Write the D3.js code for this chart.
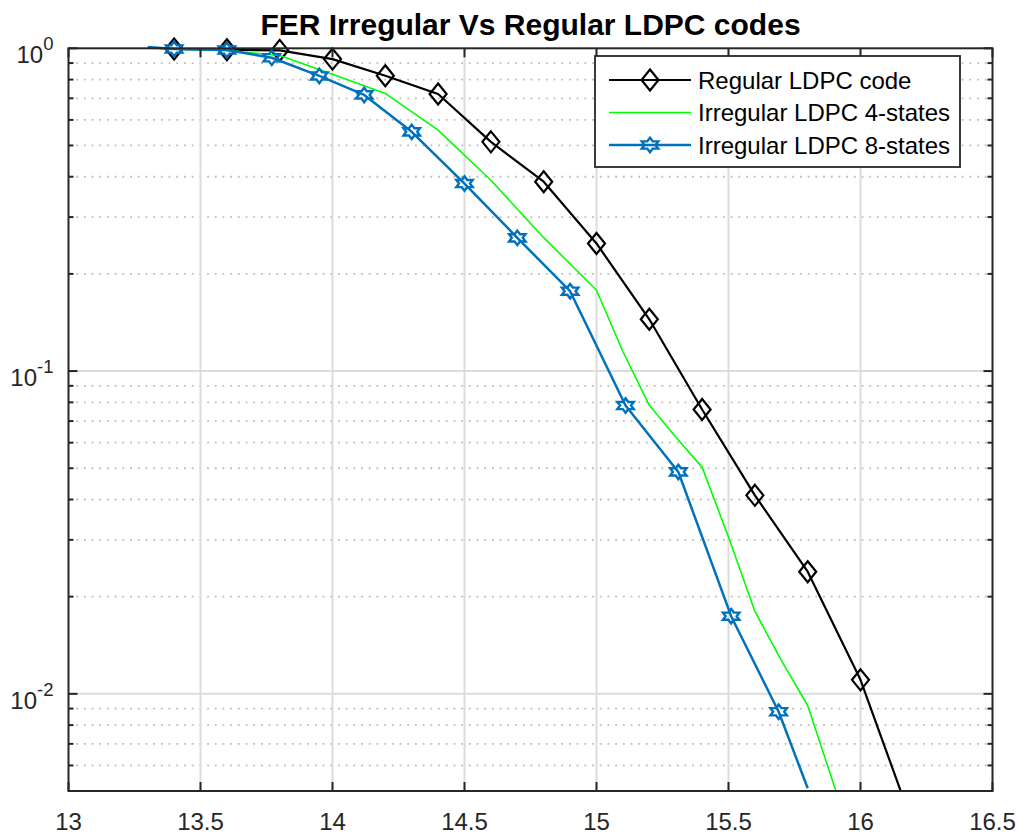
<!DOCTYPE html>
<html>
<head>
<meta charset="utf-8">
<title>FER Irregular Vs Regular LDPC codes</title>
<script src="https://cdn.jsdelivr.net/npm/d3@7/dist/d3.min.js"></script>
<style>
	html, body { margin: 0; padding: 0; background: #fff; }
	svg { display: block; font-family: 'Liberation Sans', Arial, Helvetica, sans-serif; }
</style>
</head>
<body>
<div id="chart"></div>
<script>
// Regular LDPC code (black, diamonds)
const regularX = [13.4, 13.6, 13.8, 14.0, 14.2, 14.4, 14.6, 14.8, 15.0, 15.2, 15.4, 15.6, 15.8, 16.0, 16.2];
const regularFer = [0.995, 0.99, 0.985, 0.926, 0.822, 0.722, 0.513, 0.386, 0.2485, 0.1447, 0.076, 0.0412, 0.0239, 0.01105, 0.0039];

// Irregular LDPC 4-states (green, no markers)
const irr4X = [13.3, 13.4, 13.6, 13.8, 14.0, 14.2, 14.4, 14.6, 14.8, 15.0, 15.1, 15.2, 15.3, 15.4, 15.5, 15.6, 15.7, 15.8, 15.9, 16.0];
const irr4Fer = [1.0, 0.995, 0.985, 0.95, 0.831, 0.725, 0.558, 0.39, 0.259, 0.178, 0.115, 0.0783, 0.0625, 0.0504, 0.0306, 0.018, 0.0127, 0.0092, 0.0052, 0.003];

// Irregular LDPC 8-states (blue, hexagrams)
const irr8X = [13.3, 13.4, 13.6, 13.77, 13.95, 14.12, 14.3, 14.5, 14.7, 14.9, 15.11, 15.31, 15.51, 15.69, 15.8];
const irr8Fer = [1.01, 0.995, 0.988, 0.935, 0.821, 0.717, 0.551, 0.381, 0.2587, 0.1768, 0.0782, 0.0487, 0.0174, 0.0088, 0.0051];

const xDomain = [13, 16.5];
const yDomain = [0.005, 1];
const xTickValues = [13, 13.5, 14, 14.5, 15, 15.5, 16, 16.5];
const yDecades = [-2, -1, 0];
const seriesNames = ['Regular LDPC code', 'Irregular LDPC 4-states', 'Irregular LDPC 8-states'];
const chartTitle = 'FER Irregular Vs Regular LDPC codes';

(function() {
	const W = 1026;
	const H = 836;
	const margin = {top: 48.3, right: 33.5, bottom: 45, left: 68.5};
	const width = W - margin.left - margin.right;
	const height = H - margin.top - margin.bottom;
	const axisColor = '#262626';

	/**
	 * diamond marker path, centred on 0,0
	 */
	function diamondPath(hw, hh) {
		return `M0,${-hh}L${hw},0L0,${hh}L${-hw},0Z`;
	}

	/**
	 * six-pointed star (hexagram), point up, squashed vertically by sy
	 */
	function hexagramPath(R, sy) {
		const r = R / Math.sqrt(3);
		const pts = [];
		for (let i = 0; i < 12; i++) {
			const a = -Math.PI / 2 + i * Math.PI / 6;
			const rad = i % 2 === 0 ? R : r;
			pts.push([rad * Math.cos(a), rad * Math.sin(a) * sy]);
		}
		return 'M' + pts.map(p => p[0].toFixed(2) + ',' + p[1].toFixed(2)).join('L') + 'Z';
	}

	// markFrom / markTo: which points carry a marker
	const series = [
		{name: seriesNames[0], x: regularX, y: regularFer, color: '#000000', lw: 2.2,
			marker: diamondPath(8.5, 10.5), mw: 2.2, markFrom: 0, markTo: -1},
		{name: seriesNames[1], x: irr4X, y: irr4Fer, color: '#00ff00', lw: 1.6, marker: null},
		{name: seriesNames[2], x: irr8X, y: irr8Fer, color: '#0072bd', lw: 2.5,
			marker: hexagramPath(9.5, 0.76), mw: 2.4, markFrom: 1, markTo: -1}
	];

	const svg = d3.select('#chart')
		.append('svg')
		.attr('width', W)
		.attr('height', H);

	svg.append('rect')
		.attr('width', W)
		.attr('height', H)
		.attr('fill', '#fff');

	const g = svg.append('g')
		.attr('transform', `translate(${margin.left},${margin.top})`);

	const x = d3.scaleLinear().domain(xDomain).range([0, width]);
	const y = d3.scaleLog().domain(yDomain).range([height, 0]);

	// minor values 2..9 x 10^d inside the domain
	const minorValues = [];
	[-3, -2, -1].forEach(d => {
		for (let k = 2; k <= 9; k++) {
			const v = k * Math.pow(10, d);
			if (v > yDomain[0] + 1e-9 && v < yDomain[1]) minorValues.push(v);
		}
	});
	const majorValues = yDecades.map(d => Math.pow(10, d));

	// grid
	const grid = g.append('g').attr('class', 'grid');
	grid.selectAll('.ygrid-minor')
		.data(minorValues)
		.enter().append('line')
		.attr('x1', 0).attr('x2', width)
		.attr('y1', d => y(d)).attr('y2', d => y(d))
		.attr('stroke', '#bdbdbd')
		.attr('stroke-width', 1.8)
		.attr('stroke-dasharray', '1.8,5.9');
	grid.selectAll('.xgrid')
		.data(xTickValues.slice(1, -1))
		.enter().append('line')
		.attr('x1', d => x(d)).attr('x2', d => x(d))
		.attr('y1', 0).attr('y2', height)
		.attr('stroke', '#dcdcdc')
		.attr('stroke-width', 2);
	grid.selectAll('.ygrid')
		.data(majorValues.filter(v => v < yDomain[1]))
		.enter().append('line')
		.attr('x1', 0).attr('x2', width)
		.attr('y1', d => y(d)).attr('y2', d => y(d))
		.attr('stroke', '#dcdcdc')
		.attr('stroke-width', 2);

	// series
	svg.append('clipPath')
		.attr('id', 'plot-clip')
		.append('rect')
		.attr('x', -5).attr('y', -6)
		.attr('width', width + 10).attr('height', height + 6);

	const line = d3.line()
		.x(d => x(d[0]))
		.y(d => y(d[1]));

	series.forEach(s => {
		const pts = s.x.map((v, i) => [v, s.y[i]]);
		g.append('path')
			.datum(pts)
			.attr('clip-path', 'url(#plot-clip)')
			.attr('fill', 'none')
			.attr('stroke', s.color)
			.attr('stroke-width', s.lw)
			.attr('stroke-linejoin', 'round')
			.attr('d', line);
		if (s.marker) {
			g.selectAll(null)
				.data(pts.slice(s.markFrom, s.markTo))
				.enter().append('path')
				.attr('transform', d => `translate(${x(d[0])},${y(d[1])})`)
				.attr('d', s.marker)
				.attr('fill', 'none')
				.attr('stroke', s.color)
				.attr('stroke-width', s.mw)
				.attr('stroke-linejoin', 'miter');
		}
	});

	// axes box
	g.append('rect')
		.attr('width', width)
		.attr('height', height)
		.attr('fill', 'none')
		.attr('stroke', axisColor)
		.attr('stroke-width', 2);

	// x ticks (inside, bottom and top)
	const ticks = g.append('g').attr('stroke', axisColor).attr('stroke-width', 2);
	xTickValues.forEach(v => {
		ticks.append('line')
			.attr('x1', x(v)).attr('x2', x(v))
			.attr('y1', height).attr('y2', height - 9);
		ticks.append('line')
			.attr('x1', x(v)).attr('x2', x(v))
			.attr('y1', 0).attr('y2', 9);
	});
	// y ticks (inside, left and right)
	majorValues.forEach(v => {
		ticks.append('line').attr('x1', 0).attr('x2', 9).attr('y1', y(v)).attr('y2', y(v));
		ticks.append('line').attr('x1', width).attr('x2', width - 9).attr('y1', y(v)).attr('y2', y(v));
	});
	minorValues.forEach(v => {
		ticks.append('line').attr('x1', 0).attr('x2', 5).attr('y1', y(v)).attr('y2', y(v));
		ticks.append('line').attr('x1', width).attr('x2', width - 5).attr('y1', y(v)).attr('y2', y(v));
	});

	// tick labels
	g.selectAll('.xlabel')
		.data(xTickValues)
		.enter().append('text')
		.attr('x', d => x(d))
		.attr('y', height + 39)
		.attr('text-anchor', 'middle')
		.attr('font-size', 24)
		.attr('fill', axisColor)
		.text(d => d3.format('~g')(d));

	yDecades.forEach(d => {
		const t = g.append('text')
			.attr('x', -15)
			.attr('y', y(Math.pow(10, d)) + 15)
			.attr('text-anchor', 'end')
			.attr('font-size', 24)
			.attr('fill', axisColor);
		t.append('tspan').text('10');
		t.append('tspan')
			.attr('dy', -13)
			.attr('font-size', 18.5)
			.text(d < 0 ? '-' + (-d) : String(d));
	});

	// title
	svg.append('text')
		.attr('x', margin.left + width / 2)
		.attr('y', 35)
		.attr('text-anchor', 'middle')
		.attr('font-size', 30)
		.attr('font-weight', 'bold')
		.attr('fill', '#000')
		.text(chartTitle);

	// legend
	const legend = svg.append('g')
		.attr('transform', 'translate(595,56)');
	legend.append('rect')
		.attr('width', 365)
		.attr('height', 111)
		.attr('fill', '#fff')
		.attr('stroke', axisColor)
		.attr('stroke-width', 1.8);

	series.forEach((s, i) => {
		const cy = 24 + i * 32.5;
		const item = legend.append('g');
		item.append('line')
			.attr('x1', 14).attr('x2', 96)
			.attr('y1', cy).attr('y2', cy)
			.attr('stroke', s.color)
			.attr('stroke-width', s.lw);
		if (s.marker) {
			item.append('path')
				.attr('transform', `translate(55,${cy})`)
				.attr('d', s.marker)
				.attr('fill', 'none')
				.attr('stroke', s.color)
				.attr('stroke-width', s.mw);
		}
		item.append('text')
			.attr('x', 103)
			.attr('y', cy + 8.5)
			.attr('font-size', 24)
			.attr('fill', '#000')
			.text(s.name);
	});
}());
</script>
</body>
</html>
